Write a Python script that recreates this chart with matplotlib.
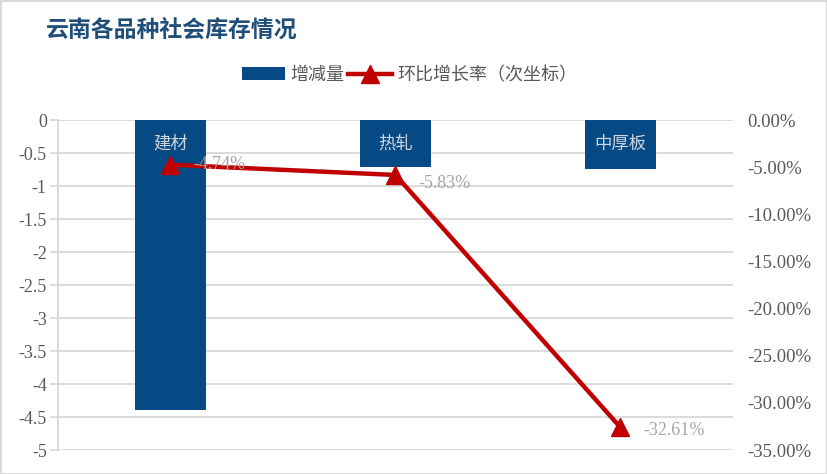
import matplotlib.pyplot as plt
from matplotlib.ticker import FuncFormatter, MultipleLocator

plt.rcParams['font.family'] = ['Liberation Serif', 'Noto Sans CJK SC']

categories = ["建材", "热轧", "中厚板"]
change = [-4.4, -0.71, -0.74]
growth = [-4.74, -5.83, -32.61]
growth_labels = ["-4.74%", "-5.83%", "-32.61%"]

bar_color = "#054A84"
line_color = "#C00000"
text_gray = "#595959"
grid_gray = "#D9D9D9"

fig = plt.figure(figsize=(8.27, 4.74), dpi=100)
fig.patch.set_edgecolor("#D9D9D9")
fig.patch.set_linewidth(2)

ax = fig.add_axes([0.0701, 0.0506, 0.8162, 0.6962])
x = list(range(len(categories)))
bars = ax.bar(x, change, width=0.315, color=bar_color, zorder=2, label="增减量")
ax.set_xlim(-0.5, 2.5)
ax.set_ylim(-5, 0)
ax.yaxis.set_major_locator(MultipleLocator(0.5))
ax.yaxis.set_major_formatter(FuncFormatter(lambda v, p: "0" if abs(v) < 1e-9 else f"{v:g}"))
ax.grid(axis="y", color=grid_gray, linewidth=1.3, zorder=0)
ax.set_xticks([])
for s in ["top", "right", "bottom"]:
    ax.spines[s].set_visible(False)
ax.spines["left"].set_color(grid_gray)
ax.spines["left"].set_linewidth(1.3)
ax.tick_params(axis="y", length=6, color=grid_gray, width=1.3, labelsize=13,
               labelcolor=text_gray, pad=2)

for xi, name in zip(x, categories):
    ax.text(xi, -0.36, name, ha="center", va="center", color="#D0D6DE",
            fontsize=12.5, family=["Noto Sans CJK SC"], zorder=3)

ax2 = ax.twinx()
line, = ax2.plot(x, growth, color=line_color, linewidth=3.2, marker="^", markersize=13,
                 zorder=4, label="环比增长率（次坐标）")
ax2.set_ylim(-35, 0)
ax2.yaxis.set_major_locator(MultipleLocator(5))
ax2.yaxis.set_major_formatter(FuncFormatter(lambda v, p: f"{v:.2f}%" if abs(v) > 1e-9 else "0.00%"))
for s in ax2.spines.values():
    s.set_visible(False)
ax2.tick_params(axis="y", length=0, labelsize=13.5, labelcolor=text_gray, pad=10)

offsets = [(0.1, 0.0), (0.1, -0.9), (0.1, -0.35)]
for xi, yi, lab, (dx, dy) in zip(x, growth, growth_labels, offsets):
    ax2.text(xi + dx, yi + dy, lab, ha="left", va="center", color="#A6A6A6",
             fontsize=13, zorder=5)

fig.text(0.055, 0.937, "云南各品种社会库存情况", fontsize=16.5, fontweight="bold",
         color="#1F4E79", family=["Noto Sans CJK SC"], va="center")

fig.legend([bars, line], ["增减量", "环比增长率（次坐标）"], loc="center",
           bbox_to_anchor=(0.495, 0.842), ncol=2, frameon=False, handlelength=2.4,
           columnspacing=0.2, handletextpad=0.3,
           prop={"family": ["Noto Sans CJK SC"], "size": 13}, labelcolor=text_gray)

fig.savefig("out.png", dpi=100, edgecolor=fig.get_edgecolor())
